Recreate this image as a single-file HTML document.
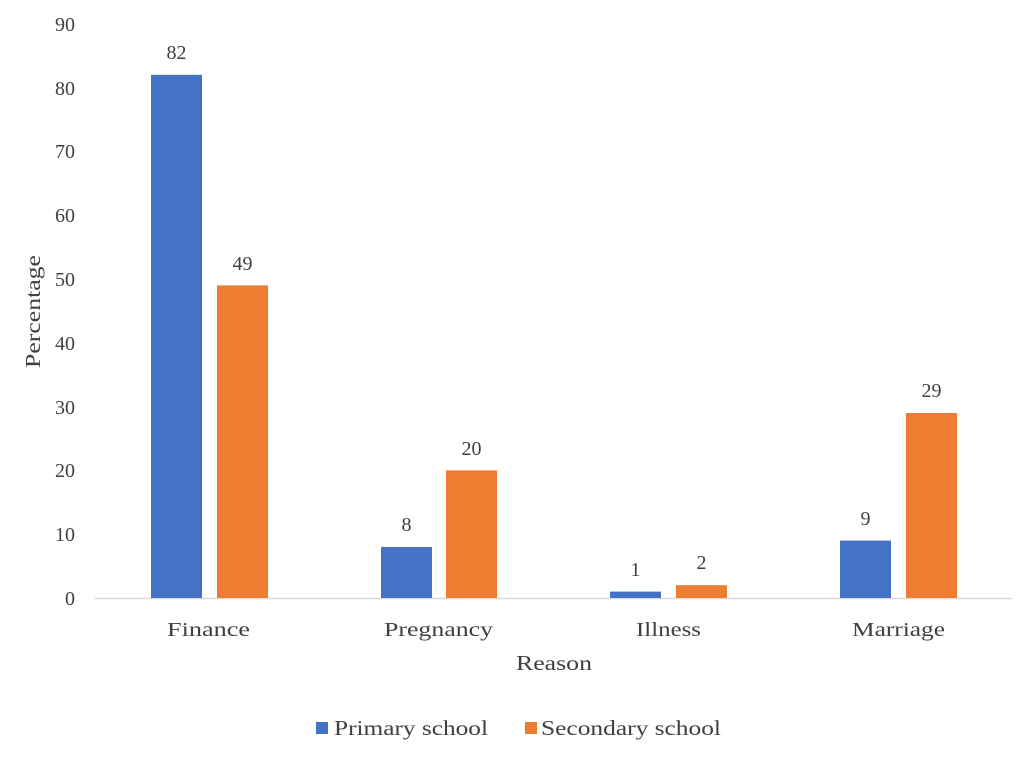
<!DOCTYPE html>
<html><head><meta charset="utf-8"><style>
html,body{margin:0;padding:0;background:#fff;}
svg{display:block;}
text{font-family:"Liberation Serif",serif;fill:#404040;}
</style></head><body>
<svg width="1024" height="763" viewBox="0 0 1024 763" xmlns="http://www.w3.org/2000/svg">
<g font-size="20" text-anchor="end">
<text x="75" y="605">0</text>
<text x="75" y="541">10</text>
<text x="75" y="477">20</text>
<text x="75" y="414">30</text>
<text x="75" y="350">40</text>
<text x="75" y="286">50</text>
<text x="75" y="222">60</text>
<text x="75" y="158">70</text>
<text x="75" y="95">80</text>
<text x="75" y="31">90</text>
</g>
<line x1="95" y1="598.5" x2="1012" y2="598.5" stroke="#d9d9d9" stroke-width="1.5"/>
<g fill="#4472C4">
<rect x="151" y="74.8" width="51" height="523.2"/>
<rect x="381" y="547" width="51" height="51"/>
<rect x="610" y="591.6" width="51" height="6.4"/>
<rect x="840" y="540.6" width="51" height="57.4"/>
</g>
<g fill="#ED7D31">
<rect x="217" y="285.4" width="51" height="312.6"/>
<rect x="446" y="470.4" width="51" height="127.6"/>
<rect x="676" y="585.2" width="51" height="12.8"/>
<rect x="906" y="413" width="51" height="185"/>
</g>
<g font-size="20" text-anchor="middle">
<text x="176.5" y="59">82</text>
<text x="242.5" y="270">49</text>
<text x="406.5" y="531">8</text>
<text x="471.5" y="455">20</text>
<text x="635.5" y="576">1</text>
<text x="701.5" y="569">2</text>
<text x="865.5" y="525">9</text>
<text x="931.5" y="397">29</text>
</g>
<g font-size="20">
<text x="167" y="636" textLength="83" lengthAdjust="spacingAndGlyphs">Finance</text>
<text x="384" y="636" textLength="109" lengthAdjust="spacingAndGlyphs">Pregnancy</text>
<text x="636" y="636" textLength="65" lengthAdjust="spacingAndGlyphs">Illness</text>
<text x="852" y="636" textLength="93" lengthAdjust="spacingAndGlyphs">Marriage</text>
<text x="516" y="670" font-size="21" textLength="76" lengthAdjust="spacingAndGlyphs">Reason</text>
</g>
<text transform="translate(40,368) rotate(-90)" font-size="21" textLength="113" lengthAdjust="spacingAndGlyphs">Percentage</text>
<rect x="316" y="722" width="12" height="12" fill="#4472C4"/>
<text x="334" y="735" font-size="21" textLength="154" lengthAdjust="spacingAndGlyphs">Primary school</text>
<rect x="525" y="722" width="12" height="12" fill="#ED7D31"/>
<text x="541" y="735" font-size="21" textLength="180" lengthAdjust="spacingAndGlyphs">Secondary school</text>
</svg>
</body></html>
